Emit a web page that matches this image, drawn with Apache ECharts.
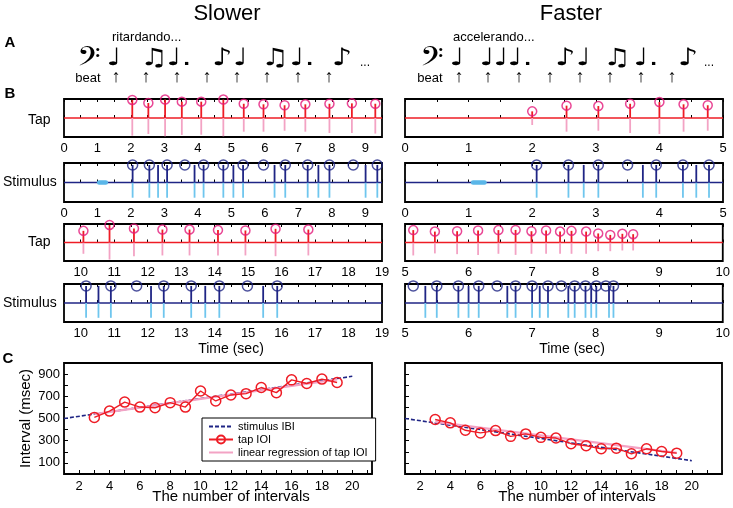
<!DOCTYPE html>
<html><head><meta charset="utf-8">
<script src="https://cdn.jsdelivr.net/npm/echarts@6/dist/echarts.min.js"></script>
<style>html,body{margin:0;padding:0;background:#fff}#c{width:733px;height:508px}</style>
</head><body><div id="c"></div>
<script>
// ---------- DATA ----------
// Panel B, Slower (times in sec; stem heights in relative units)
const slowTap1T    = [2.04,2.52,3.02,3.52,4.10,4.76,5.37,5.96,6.59,7.21,7.93,8.60,9.30];
const slowTap1Up   = [0.95,0.79,0.97,0.86,0.86,0.97,0.75,0.72,0.67,0.72,0.75,0.77,0.75];
const slowTap1Down = [-0.93,-0.84,-0.96,-0.89,-0.88,-0.96,-0.72,-0.72,-0.67,-0.72,-0.79,-0.79,-0.82];
const slowStim1Notes = [2.05,2.55,2.81,3.08,3.90,4.17,4.76,5.06,5.35,6.29,6.61,7.28,7.60,7.93,9.01,9.36];
const slowStim1Beats = [2.05,2.55,3.08,3.61,4.17,4.76,5.35,5.96,6.61,7.28,7.93,8.64,9.36];
const slowTap2T    = [10.08,10.86,11.59,12.44,13.25,14.10,14.92,15.82,16.80];
const slowTap2Up   = [0.63,0.95,0.76,0.70,0.70,0.67,0.65,0.74,0.70];
const slowTap2Down = [-0.61,-0.92,-0.74,-0.70,-0.70,-0.70,-0.70,-0.74,-0.70];
const slowStim2Notes = [10.16,10.53,10.90,12.10,12.48,13.30,13.72,14.14,15.45,15.87];
const slowStim2Beats = [10.16,10.90,11.67,12.48,13.30,14.14,14.98,15.87];
const slowCue = [1.05,1.25];
// Panel B, Faster
const fastTap1T    = [2.00,2.54,3.04,3.54,4.00,4.38,4.76];
const fastTap1Up   = [0.35,0.65,0.63,0.75,0.84,0.72,0.67];
const fastTap1Down = [-0.37,-0.72,-0.67,-0.79,-0.84,-0.72,-0.67];
const fastStim1Notes = [2.07,2.57,2.81,3.04,3.74,3.95,4.37,4.58,4.78];
const fastStim1Beats = [2.07,2.57,3.04,3.50,3.95,4.37,4.78];
const fastTap2T    = [5.13,5.47,5.82,6.15,6.47,6.74,6.99,7.22,7.44,7.62,7.85,8.04,8.23,8.42,8.59];
const fastTap2Up   = [0.67,0.59,0.61,0.65,0.67,0.68,0.61,0.65,0.59,0.63,0.59,0.49,0.41,0.47,0.45];
const fastTap2Down = [-0.70,-0.59,-0.63,-0.67,-0.61,-0.67,-0.61,-0.61,-0.61,-0.61,-0.61,-0.47,-0.47,-0.43,-0.43];
const fastStim2Notes = [5.32,5.50,5.84,6.00,6.16,6.61,6.74,7.00,7.12,7.25,7.57,7.67,7.84,7.93,8.01,8.21,8.28];
const fastStim2Beats = [5.13,5.50,5.84,6.16,6.45,6.74,7.00,7.25,7.46,7.67,7.84,8.01,8.16,8.28];
const fastCue = [1.07,1.25];
const stimUp = 0.9, stimDown = -0.78;
// Panel C
const intervalNo  = [3,4,5,6,7,8,9,10,11,12,13,14,15,16,17,18,19];
const slowTapIOI  = [510,567,648,603,597,643,603,748,658,712,724,779,733,848,815,855,824];
const fastTapIOI  = [491,461,394,370,391,339,361,330,324,273,255,227,233,182,227,203,188];
const ibiX = [1,20];
const slowIBI = [500,880];
const fastIBI = [500,120];
const regX = [3,19];
const slowReg = [540,852];
const fastReg = [470,190];

// ---------- STYLE / LAYOUT ----------
const FONT = "'Liberation Sans', Arial, sans-serif";
const RED='#ee1c25', PINKC='#e3197a', PINK='#f3a3c4', NAVY='#1f2585', LBLUE='#6fc6ee';
const chart = echarts.init(document.getElementById('c'), null, {renderer:'canvas'});

const colL = 64, colR = 405, colW = 318;
const rows = [{top:99,h:38},{top:163,h:39},{top:224,h:37},{top:284,h:38}];
const ranges = [[0,9.5],[0,9.5],[9.5,19],[9.5,19],[0,5],[0,5],[5,10],[5,10]];
const BW = 1.8;

const grids=[], xAxes=[], yAxes=[], series=[];
for (let i=0;i<8;i++){
  const r = rows[i%4];
  grids.push({left:i<4?colL:colR, top:r.top, width:colW, height:r.h, show:true, borderColor:'#000', borderWidth:BW, backgroundColor:'transparent'});
  const [mn,mx] = ranges[i];
  xAxes.push({type:'value', gridIndex:i, min:mn, max:mx, interval:0.5, position:'bottom',
    axisLine:{show:false}, splitLine:{show:false},
    axisTick:{show:true, inside:true, length:3, lineStyle:{color:'#000',width:1}},
    axisLabel:{show:true, interval:0, margin:5, fontFamily:FONT, fontSize:13, color:'#000',
      formatter:v=>Number.isInteger(v)?String(v):''}});
  xAxes.push({type:'value', gridIndex:i, min:mn, max:mx, interval:0.5, position:'top',
    axisLine:{show:false}, splitLine:{show:false},
    axisTick:{show:true, inside:true, length:3, lineStyle:{color:'#000',width:1}},
    axisLabel:{show:false}});
  yAxes.push({type:'value', gridIndex:i, min:-1, max:1, show:false});
}
// C grids
grids.push({left:64, top:363, width:308, height:111, show:true, borderColor:'#000', borderWidth:BW, backgroundColor:'transparent'});
grids.push({left:405, top:363, width:317, height:111, show:true, borderColor:'#000', borderWidth:BW, backgroundColor:'transparent'});
[[1,21.3],[1,22]].forEach((rg,k)=>{
  xAxes.push({type:'value', gridIndex:8+k, min:rg[0], max:rg[1], interval:1,
    axisLine:{show:false}, splitLine:{show:false},
    axisTick:{show:true, inside:true, length:4, lineStyle:{color:'#000'}},
    axisLabel:{interval:0, margin:6, fontFamily:FONT, fontSize:13, color:'#000',
      formatter:v=>(Number.isInteger(v)&&v%2===0&&v>=2&&v<=20)?String(v):''}});
  yAxes.push({type:'value', gridIndex:8+k, min:0, max:1000, interval:100,
    name:k===0?'Interval (msec)':'', nameLocation:'middle', nameGap:31,
    nameTextStyle:{fontFamily:FONT, fontSize:15, color:'#000'},
    axisLine:{show:false}, splitLine:{show:false},
    axisTick:{show:true, inside:true, length:4, lineStyle:{color:'#000'}},
    axisLabel:{show:k===0, margin:4, fontFamily:FONT, fontSize:13, color:'#000',
      formatter:v=>(v%200===100)?String(v):''}});
});

function stems(gi, xs, hs, color, width, z){
  series.push({type:'custom', xAxisIndex:2*gi, yAxisIndex:gi, z:z||3, clip:false, silent:true,
    data: xs.map((x,i)=>[x, Array.isArray(hs)?hs[i]:hs]),
    encode:{x:0,y:1},
    renderItem:(p,api)=>{
      const a=api.coord([api.value(0),0]), b=api.coord([api.value(0),api.value(1)]);
      return {type:'line', shape:{x1:a[0],y1:a[1],x2:b[0],y2:b[1]}, style:{stroke:color, lineWidth:width}};
    }});
}
function baseline(gi, color){
  const [mn,mx]=ranges[gi];
  series.push({type:'line', xAxisIndex:2*gi, yAxisIndex:gi, z:2, silent:true, symbol:'none',
    data:[[mn,0],[mx,0]], lineStyle:{color:color,width:1.4}});
}
function circles(gi, xs, hs, color, size){
  series.push({type:'scatter', xAxisIndex:2*gi, yAxisIndex:gi, z:5, clip:false, silent:true,
    symbol:'circle', symbolSize:size,
    data: xs.map((x,i)=>[x, Array.isArray(hs)?hs[i]:hs]),
    itemStyle:{color:'rgba(0,0,0,0)', borderColor:color, borderWidth:1.5}});
}
function cue(gi, seg){
  series.push({type:'line', xAxisIndex:2*gi, yAxisIndex:gi, z:4, silent:true, symbol:'none',
    data:[[seg[0],0],[seg[1],0]], lineStyle:{color:'#5ab6e8',width:4.5,cap:'round'}});
}
function tapPanel(gi, t, up, down){
  baseline(gi, RED);
  stems(gi, t, down, PINK, 1.8, 3);
  stems(gi, t, up, RED, 1.8, 3);
  circles(gi, t, up, PINKC, 9);
}
function stimPanel(gi, notes, beats, cueSeg){
  baseline(gi, NAVY);
  stems(gi, notes, stimDown, LBLUE, 1.8, 3);
  stems(gi, notes, stimUp, NAVY, 1.8, 3);
  circles(gi, beats, stimUp, NAVY, 10);
  if (cueSeg) cue(gi, cueSeg);
}
tapPanel(0, slowTap1T, slowTap1Up, slowTap1Down);
stimPanel(1, slowStim1Notes, slowStim1Beats, slowCue);
tapPanel(2, slowTap2T, slowTap2Up, slowTap2Down);
stimPanel(3, slowStim2Notes, slowStim2Beats, null);
tapPanel(4, fastTap1T, fastTap1Up, fastTap1Down);
stimPanel(5, fastStim1Notes, fastStim1Beats, fastCue);
tapPanel(6, fastTap2T, fastTap2Up, fastTap2Down);
stimPanel(7, fastStim2Notes, fastStim2Beats, null);

[[slowIBI,slowTapIOI,slowReg],[fastIBI,fastTapIOI,fastReg]].forEach((d,k)=>{
  const xi=16+k, yi=8+k;
  series.push({name:'stimulus IBI', type:'line', xAxisIndex:xi, yAxisIndex:yi, z:3, symbol:'none',
    data: ibiX.map((x,i)=>[x,d[0][i]]), lineStyle:{color:NAVY,width:1.6,type:[4,2]}, itemStyle:{color:NAVY}});
  series.push({name:'linear regression of tap IOI', type:'line', xAxisIndex:xi, yAxisIndex:yi, z:4, symbol:'none',
    data: regX.map((x,i)=>[x,d[2][i]]), lineStyle:{color:PINK,width:2.2}, itemStyle:{color:PINK}});
  series.push({name:'tap IOI', type:'line', xAxisIndex:xi, yAxisIndex:yi, z:5, symbol:'circle', symbolSize:10,
    data: intervalNo.map((x,i)=>[x,d[1][i]]), lineStyle:{color:RED,width:1.4},
    itemStyle:{color:'rgba(0,0,0,0)', borderColor:RED, borderWidth:1.5}});
});

// ---------- TEXT / NOTATION ----------
const T = (text,x,y,o,extra)=>Object.assign({type:'text', x:x, y:y, silent:true,
  style:Object.assign({text:text, fill:'#000', font:'13px '+FONT, textAlign:'center', textVerticalAlign:'middle'}, o||{})}, extra||{});
const NF = "24px 'DejaVu Sans'";
const g = [
  T('Slower',227,14,{font:'22px '+FONT}),
  T('Faster',571,14,{font:'22px '+FONT}),
  T('A',10,43,{font:'bold 15px '+FONT}),
  T('B',10,94,{font:'bold 15px '+FONT}),
  T('C',8,359,{font:'bold 15px '+FONT}),
  T('ritardando...',112,37,{textAlign:'left',font:'13px '+FONT}),
  T('accelerando...',453,37,{textAlign:'left',font:'13px '+FONT}),
  T('beat',88,78,{font:'13px '+FONT}),
  T('beat',430,78,{font:'13px '+FONT}),
  T('\u{1D122}',89,63,{font:"32px 'DejaVu Sans', 'Noto Sans', sans-serif"},{scaleX:1.15}),
  T('\u{1D122}',432,63,{font:"32px 'DejaVu Sans', 'Noto Sans', sans-serif"},{scaleX:1.15}),
  T('Tap',28,120,{textAlign:'left',font:'14px '+FONT}),
  T('Stimulus',3,182,{textAlign:'left',font:'14px '+FONT}),
  T('Tap',28,242,{textAlign:'left',font:'14px '+FONT}),
  T('Stimulus',3,303,{textAlign:'left',font:'14px '+FONT}),
  T('Time (sec)',231,349,{font:'14px '+FONT}),
  T('Time (sec)',572,349,{font:'14px '+FONT}),
  T('The number of intervals',231,497,{font:'15px '+FONT}),
  T('The number of intervals',577,497,{font:'15px '+FONT})
];
const notesL = [['\u2669',114],['\u266B',154],['\u2669.',179],['\u266A\u2669',230],['\u266B',275],['\u2669.',302],['\u266A',342]];
const notesR = [['\u2669',457],['\u2669',487],['\u2669',501],['\u2669.',520],['\u266A\u2669',573],['\u266B',617],['\u2669.',646],['\u266A',688]];
notesL.concat(notesR).forEach(n=>g.push(T(n[0],n[1],59,{font:NF},{scaleX:1.35})));
g.push(T('...',365,63,{font:'12px '+FONT}), T('...',709,63,{font:'12px '+FONT}));
[116,146,177,207,237,267,298,329,459,488,519,550,580,610,641,672].forEach(x=>g.push(T('\u2191',x,77,{font:'18px '+FONT})));

chart.setOption({
  animation:false,
  grid:grids, xAxis:xAxes, yAxis:yAxes, series:series,
  legend:{show:true, orient:'vertical', left:202, top:418, padding:[3,8,3,6], itemGap:2,
    itemWidth:24, itemHeight:10, borderColor:'#000', borderWidth:1, backgroundColor:'#fff',
    data:[{name:'stimulus IBI', itemStyle:{opacity:0}}, {name:'tap IOI'}, {name:'linear regression of tap IOI', itemStyle:{opacity:0}}],
    selectedMode:false,
    textStyle:{fontFamily:FONT, fontSize:11, color:'#000'}},
  graphic:g
});
</script></body></html>
